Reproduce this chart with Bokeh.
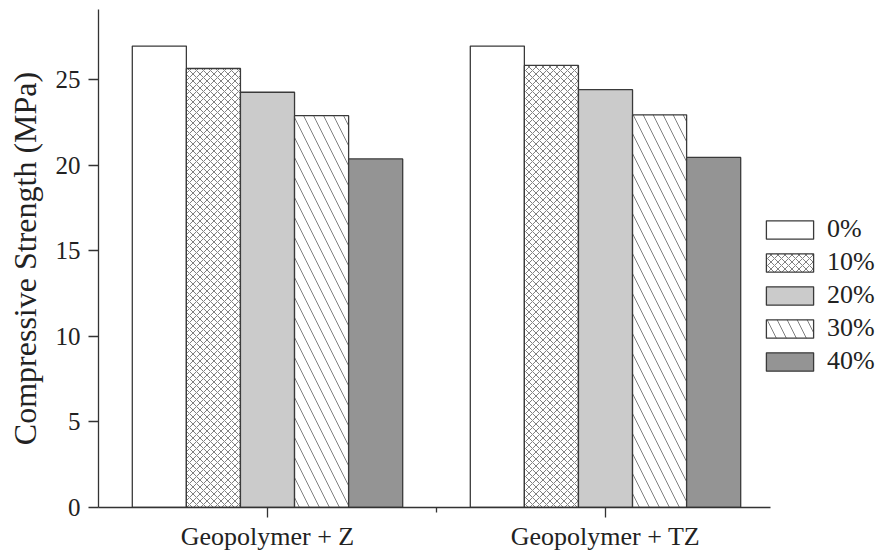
from bokeh.plotting import figure
from bokeh.models import Range1d, FixedTicker, Legend, LegendItem, ColumnDataSource
from bokeh.transform import dodge
from bokeh.embed import file_html
from bokeh.resources import INLINE

# ---- data ----
groups = ["Geopolymer + Z", "Geopolymer + TZ"]
group_pos = [1, 2]
series = ["0%", "10%", "20%", "30%", "40%"]
strength_0 = [26.98, 26.98]
strength_10 = [25.67, 25.85]
strength_20 = [24.28, 24.43]
strength_30 = [22.91, 22.96]
strength_40 = [20.38, 20.47]
y_ticks = [0, 5, 10, 15, 20, 25]

values = [strength_0, strength_10, strength_20, strength_30, strength_40]

# ---- styles ----
fills = ["#ffffff", "#ffffff", "#cbcbcb", "#ffffff", "#949494"]
hatches = [None, "x", None, "\\", None]
hatch_scales = [7, 7, 7, 20, 7]
offsets = [-0.32, -0.16, 0.0, 0.16, 0.32]
bar_w = 0.16
FONT = "Liberation Serif"
TXT = "#222222"

p = figure(width=880, height=553, output_backend="svg", toolbar_location=None,
           x_range=Range1d(0.5, 2.8018), y_range=Range1d(0, 29.12),
           min_border_left=98, min_border_right=4, min_border_top=9, min_border_bottom=46)
p.outline_line_color = None
p.xgrid.visible = False
p.ygrid.visible = False
p.background_fill_color = "white"
p.border_fill_color = "white"

renderers = []
for i, vals in enumerate(values):
    src = ColumnDataSource(dict(x=group_pos, top=vals))
    kw = dict(fill_color=fills[i], line_color="#3a3a3a", line_width=1.3)
    if hatches[i]:
        kw.update(hatch_pattern=hatches[i], hatch_color="#606060", hatch_weight=0.8,
                  hatch_scale=hatch_scales[i])
    r = p.vbar(x=dodge("x", offsets[i]), top="top", bottom=0, width=bar_w, source=src, **kw)
    renderers.append(r)

# x axis
xa = p.xaxis[0]
xa.bounds = (0.5, 2.488)
xa.ticker = FixedTicker(ticks=group_pos, minor_ticks=[1.5])
xa.major_label_overrides = {g: lbl for g, lbl in zip(group_pos, groups)}
xa.major_tick_out = 10
xa.major_tick_in = 0
xa.minor_tick_out = 5
xa.minor_tick_in = 0
xa.major_label_standoff = 4
xa.major_label_text_font = FONT
xa.major_label_text_font_size = "26px"
xa.major_label_text_color = TXT
xa.axis_line_color = "#333333"
xa.axis_line_width = 1.3
xa.major_tick_line_color = "#333333"
xa.major_tick_line_width = 1.3
xa.minor_tick_line_color = "#333333"
xa.minor_tick_line_width = 1.3

# y axis
ya = p.yaxis[0]
ya.ticker = FixedTicker(ticks=y_ticks, minor_ticks=[])
ya.axis_label = "Compressive Strength (MPa)"
ya.axis_label_text_font = FONT
ya.axis_label_text_font_size = "32px"
ya.axis_label_text_font_style = "normal"
ya.axis_label_text_color = TXT
ya.axis_label_standoff = 10
ya.major_tick_out = 10
ya.major_tick_in = 0
ya.minor_tick_line_color = None
ya.major_label_standoff = 8
ya.major_label_text_font = FONT
ya.major_label_text_font_size = "25px"
ya.major_label_text_color = TXT
ya.axis_line_color = "#333333"
ya.axis_line_width = 1.3
ya.major_tick_line_color = "#333333"
ya.major_tick_line_width = 1.3

legend = Legend(items=[LegendItem(label=s, renderers=[r]) for s, r in zip(series, renderers)],
                location=(662, 131), orientation="vertical",
                glyph_width=59, glyph_height=23, label_standoff=8, spacing=3,
                padding=0, margin=0,
                label_text_font=FONT, label_text_font_size="26px", label_text_color=TXT,
                border_line_alpha=0, background_fill_alpha=0)
p.add_layout(legend, "center")

open("out.html", "w").write(file_html(p, INLINE))
